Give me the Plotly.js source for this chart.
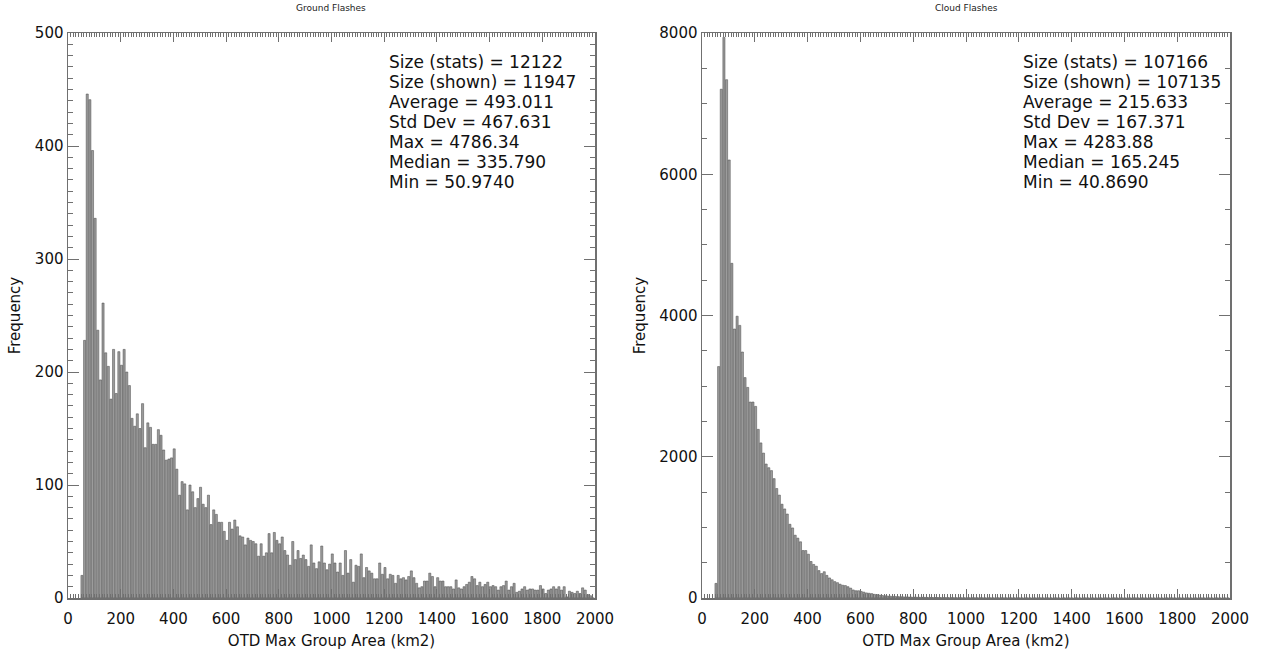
<!DOCTYPE html>
<html>
<head>
<meta charset="utf-8">
<script src="https://cdn.plot.ly/plotly-3.0.1.min.js"></script>
<style>html,body{margin:0;padding:0;background:#fff;}#chart{width:1262px;height:651px;}</style>
</head>
<body>
<div id="chart"></div>
<script>
// ---- Data ----
const panelTitles = ["Ground Flashes", "Cloud Flashes"];
const xTitle = "OTD Max Group Area (km2)";
const yTitle = "Frequency";

// Histogram bins: width 10 km2, first bin centred at 53 km2
const binWidth = 10;
const firstBinCenter = 53;

const groundCounts = [
  20,228,446,441,396,336,237,193,261,217,
  205,176,220,181,218,206,220,200,188,159,
  152,163,150,172,133,155,151,136,136,149,
  144,131,122,123,124,132,114,91,103,101,
  78,100,94,80,88,98,83,80,91,65,
  78,74,67,67,59,51,67,61,69,63,
  55,54,47,53,51,
  50,48,37,48,37,40,57,40,58,51,
  48,54,42,38,29,50,34,42,35,38,
  34,28,47,31,26,32,46,31,25,30,
  39,31,23,31,20,42,22,34,14,29,
  28,39,18,
  27,24,22,17,17,31,21,27,17,21,
  20,13,20,17,18,16,19,24,18,13,
  9,10,15,15,22,19,10,18,15,15,
  10,10,10,8,16,9,8,10,12,14,
  19,17,11,14,10,12,14,10,11,10,
  7,10,11,15,7,10,13,5,6,8,
  10,7,8,8,7,7,11,8,4,7,
  8,10,8,10,7,10,1,6,5,4,
  6,4,9,7,3,2,0
];

const cloudCounts = [
  207,3277,7204,7938,7339,6202,4739,3809,3990,3860,
  3483,3121,2982,2775,2775,2713,2388,2196,2052,1897,
  1845,1804,1690,1550,1457,1328,1261,1189,1044,992,
  889,848,796,672,672,620,517,475,450,388,
  346,372,320,284,258,232,217,196,181,176,
  160,140,114,103,103,93,83,72,67,62,
  52,47,41,36,31,
  28,26,23,21,20,18,16,15,14,13,
  12,11,10,10,9,8,8,7,7,6,
  6,5,5,5,4,4,4,4,3,3,
  3,3,3,2,3,2,2,2,2,2,
  2,2,2,2,1,2,1,1,2,1,
  1,1,1,1,1,1,1,1,1,1,
  1,0,1,0,1,0,0,1,0,0,
  0,1,0,0,0,1,0,0,0,0,
  1,0,0,0,0,0,1,0,0,0,
  0,0,0,1,0,0,0,0,0,0,
  0,0,0,0,0,0,1,0,0,0,
  0,0,0,0,0,0,0,0,0,0,
  0,0,0,0,0,0,0,0,0,0
];

const groundStats = [
  "Size (stats) = 12122",
  "Size (shown) = 11947",
  "Average = 493.011",
  "Std Dev = 467.631",
  "Max = 4786.34",
  "Median = 335.790",
  "Min = 50.9740"
];
const cloudStats = [
  "Size (stats) = 107166",
  "Size (shown) = 107135",
  "Average = 215.633",
  "Std Dev = 167.371",
  "Max = 4283.88",
  "Median = 165.245",
  "Min = 40.8690"
];

const xRange = [0, 2000];
const groundYRange = [0, 500];
const cloudYRange = [0, 8000];

// ---- Styling ----
const FONT = "DejaVu Sans, Liberation Sans, sans-serif";
const axisCol = "#707070";
const barStyle = {color: "#9c9c9c", line: {color: "#474747", width: 0.5}};

function xAxis(domain, anchor) {
  return {
    domain: domain, anchor: anchor, range: xRange,
    tick0: 0, dtick: 200, ticks: "inside", ticklen: 9, tickwidth: 1, tickcolor: axisCol,
    minor: {dtick: 10, ticks: "inside", ticklen: 4, tickwidth: 1, tickcolor: axisCol},
    showline: true, linecolor: axisCol, linewidth: 1.5, mirror: "ticks",
    showgrid: false, zeroline: false,
    ticklabelstandoff: 6,
    tickfont: {family: FONT, size: 15, color: "#111"},
    title: {text: xTitle, font: {family: FONT, size: 15, color: "#111"}, standoff: 9},
    automargin: false
  };
}
function yAxis(domain, anchor, range, dtick, minorDtick) {
  return {
    domain: domain, anchor: anchor, range: range,
    tick0: 0, dtick: dtick, ticks: "inside", ticklen: 11, tickwidth: 1, tickcolor: axisCol,
    minor: {dtick: minorDtick, ticks: "inside", ticklen: 5, tickwidth: 1, tickcolor: axisCol},
    showline: true, linecolor: axisCol, linewidth: 1.5, mirror: "ticks",
    showgrid: false, zeroline: false,
    tickfont: {family: FONT, size: 15, color: "#111"},
    title: {text: yTitle, font: {family: FONT, size: 15, color: "#111"}, standoff: 10},
    automargin: false
  };
}

const W = 1262, H = 651;
const yDom = [1 - 598 / H, 1 - 33 / H];
const x1Dom = [68 / W, 595 / W];
const x2Dom = [702 / W, 1230 / W];

const traces = [
  {type: "bar", x0: firstBinCenter, dx: binWidth, y: groundCounts, xaxis: "x", yaxis: "y",
   marker: barStyle, hoverinfo: "x+y"},
  {type: "bar", x0: firstBinCenter, dx: binWidth, y: cloudCounts, xaxis: "x2", yaxis: "y2",
   marker: barStyle, hoverinfo: "x+y"}
];

// one annotation per stats line, 20 px apart
function statsAnns(lines, xPix) {
  return lines.map((t, i) => ({
    xref: "paper", yref: "paper", x: xPix / W, y: 1 - (62 + 20 * i) / H,
    xanchor: "left", yanchor: "middle", align: "left", showarrow: false,
    text: t,
    font: {family: FONT, size: 17, color: "#111"}
  }));
}

const layout = {
  width: W, height: H,
  margin: {l: 0, r: 0, t: 0, b: 0},
  paper_bgcolor: "#fff", plot_bgcolor: "#fff",
  showlegend: false,
  bargap: 0.2,
  xaxis: xAxis(x1Dom, "y"),
  yaxis: yAxis(yDom, "x", groundYRange, 100, 10),
  xaxis2: xAxis(x2Dom, "y2"),
  yaxis2: yAxis(yDom, "x2", cloudYRange, 2000, 500),
  annotations: [
    {xref: "paper", yref: "paper", x: ((68 + 595) / 2) / W, y: 1 - 8 / H, xanchor: "center", yanchor: "middle",
     showarrow: false, text: panelTitles[0], font: {family: FONT, size: 9, color: "#222"}},
    {xref: "paper", yref: "paper", x: ((702 + 1230) / 2) / W, y: 1 - 8 / H, xanchor: "center", yanchor: "middle",
     showarrow: false, text: panelTitles[1], font: {family: FONT, size: 9, color: "#222"}}
  ].concat(statsAnns(groundStats, 387), statsAnns(cloudStats, 1021))
};

Plotly.newPlot("chart", traces, layout, {displayModeBar: false, staticPlot: true});
</script>
</body>
</html>
